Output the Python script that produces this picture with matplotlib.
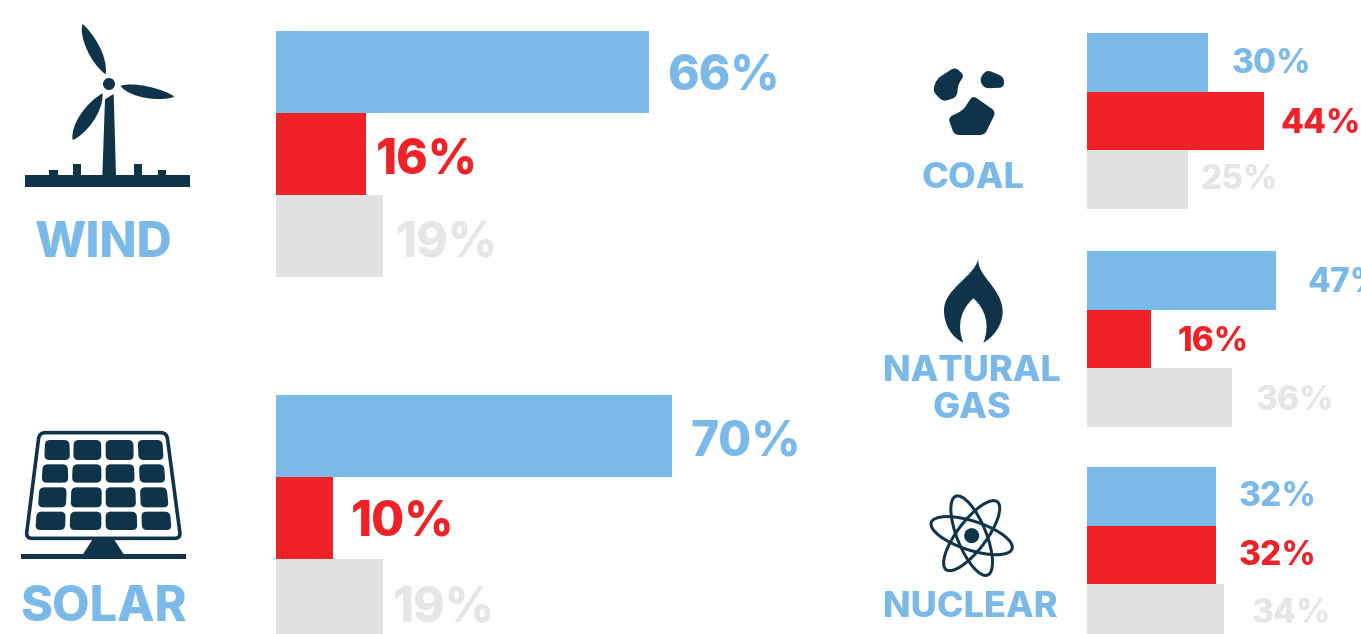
import matplotlib
matplotlib.use("Agg")
import matplotlib.pyplot as plt
from matplotlib.patches import PathPatch, Polygon, Circle, Ellipse
from matplotlib.path import Path
import numpy as np

W, H = 1361, 634
BLUE, RED, GRAY, GRAYTXT, DARK = "#7BB9E8", "#EE2227", "#E0E1E3", "#E5E6E7", "#0F3349"
FONT = "Inter"
WEIGHT = 800

wind = [66, 16, 19]
solar = [70, 10, 19]
coal = [30, 44, 25]
natural_gas = [47, 16, 36]
nuclear = [32, 32, 34]

bar_colors = [BLUE, RED, GRAY]
text_colors = [BLUE, RED, GRAYTXT]

fig = plt.figure(figsize=(W / 100, H / 100), dpi=100, facecolor="white")
px = 72 / 100


def group(values, x0, top, bar_h, scale, gaps, shifts, size, digit_h):
    width = W - x0
    ax = fig.add_axes([x0 / W, 1 - (top + 3 * bar_h) / H, width / W, 3 * bar_h / H])
    ax.set_xlim(0, width / scale)
    ax.set_ylim(2.5, -0.5)
    ax.axis("off")
    ax.barh(range(3), values, height=1.0, color=bar_colors, linewidth=0)
    for i, v in enumerate(values):
        ax.annotate(f"{v}%", xy=(v, i), xytext=(gaps[i] * px, -(digit_h / 2 + shifts[i]) * px),
                    textcoords="offset points", ha="left", va="baseline",
                    fontsize=size, fontweight=WEIGHT, family=FONT,
                    color=text_colors[i], annotation_clip=False)


group(wind, 276, 31, 82, 5.655, [18, 9, 12], [0, 2, 3], 34.5, 36)
group(solar, 276, 395, 82, 5.655, [19, 18, 9], [1, 0, 4], 34.5, 36)
group(coal, 1087, 33, 58.7, 4.03, [24, 16, 13], [-1, 0, -3], 24, 24)
group(natural_gas, 1087, 251, 58.7, 4.03, [31, 26, 23], [0, 0, 0], 24, 24)
group(nuclear, 1087, 467, 58.7, 4.03, [23, 23, 27], [-2, -2, -3], 24, 24)

ov = fig.add_axes([0, 0, 1, 1], facecolor="none")
ov.set_xlim(0, W)
ov.set_ylim(H, 0)
ov.axis("off")


def Z(x0, y0, pts):
    return [(x0 + x / 3, y0 + y / 3) for x, y in pts]


def curve(start, *segs, fc=DARK):
    verts, codes = [start], [Path.MOVETO]
    for s in segs:
        verts += list(s)
        codes += [Path.CURVE4] * 3
    verts.append(start)
    codes.append(Path.CLOSEPOLY)
    return PathPatch(Path(verts, codes), fc=fc, ec="none", lw=0)


def rounded(pts, r, **kw):
    pts = np.array(pts, float)
    n = len(pts)
    verts, codes = [], []
    for i in range(n):
        p, a, b = pts[i], pts[i - 1], pts[(i + 1) % n]
        rr = min(r, np.linalg.norm(a - p) / 2, np.linalg.norm(b - p) / 2)
        s = p + (a - p) / np.linalg.norm(a - p) * rr
        e = p + (b - p) / np.linalg.norm(b - p) * rr
        verts += [s, p, e]
        codes += [Path.MOVETO if i == 0 else Path.LINETO, Path.CURVE3, Path.CURVE3]
    verts.append(verts[0])
    codes.append(Path.CLOSEPOLY)
    return PathPatch(Path(np.array(verts), codes), **kw)


# wind turbine
zw = lambda *p: Z(10, 10, p)
blades = [
    [(287, 193), (240, 160), (205, 75), (218, 42), (245, 65), (295, 135)],
    [(331, 228), (365, 268), (460, 275), (493, 260), (470, 240), (370, 212)],
    [(278, 250), (230, 275), (180, 345), (188, 390), (225, 375), (280, 310)],
]
for b in blades:
    s, c1, c2, tip, c3, c4 = zw(*b)
    ov.add_patch(curve(s, (c1, c2, tip), (c3, c4, s)))
ov.add_patch(Circle(zw((297, 222))[0], 6, fc=DARK, ec="none"))
ov.add_patch(Polygon(zw((285, 268), (311, 252), (318, 497), (277, 497)), fc=DARK, ec="none"))
ov.add_patch(Polygon(zw((46, 496), (540, 496), (540, 530), (46, 530)), fc=DARK, ec="none"))
for x1, y1, x2 in [(117, 480, 143), (189, 462, 214), (371, 462, 397), (443, 480, 469)]:
    ov.add_patch(Polygon(zw((x1, y1), (x2, y1), (x2, 497), (x1, 497)), fc=DARK, ec="none"))

# solar panel
zs = lambda *p: Z(10, 420, p)
ov.add_patch(rounded(zs((88, 38), (470, 38), (512, 355), (48, 355)), 6, fc="none", ec=DARK, lw=3.6 * px))
rows = [(60, 120, [(105, 178), (191, 273), (287, 370), (383, 457)],
         [(103, 180), (190, 274), (287, 371), (386, 461)]),
        (133, 188, [(98, 173), (188, 274), (287, 372), (387, 462)],
         [(95, 175), (186, 274), (287, 374), (389, 466)]),
        (202, 262, [(88, 170), (184, 275), (287, 376), (390, 470)],
         [(84, 168), (182, 275), (287, 378), (392, 476)]),
        (275, 330, [(80, 167), (181, 274), (287, 380), (394, 480)],
         [(76, 165), (179, 274), (287, 382), (396, 485)])]
for y1, y2, tops, bots in rows:
    for (a, b), (c, d) in zip(tops, bots):
        ov.add_patch(rounded(zs((a, y1), (b, y1), (d, y2), (c, y2)), 5, fc=DARK, ec="none"))
ov.add_patch(Polygon(zs((248, 358), (312, 358), (342, 404), (218, 404)), fc=DARK, ec="none"))
ov.add_patch(Polygon(zs((33, 403), (527, 403), (527, 416), (33, 416)), fc=DARK, ec="none"))

# coal
zc = lambda *p: Z(920, 55, p)
for blob in [
    [(50, 72), (105, 36), (134, 62), (115, 85), (110, 127), (68, 140), (38, 108)],
    [(178, 72), (200, 44), (252, 66), (252, 98), (192, 100)],
    [(158, 121), (228, 170), (194, 240), (103, 240), (84, 188), (130, 165)],
]:
    ov.add_patch(rounded(zc(*blob), 5, fc=DARK, ec="none"))

# flame
zf = lambda *p: Z(930, 250, p)
ov.add_patch(curve(
    zf((145, 25))[0],
    zf((140, 80), (215, 110), (218, 185)),
    zf((218, 225), (190, 262), (160, 278)),
    zf((182, 225), (165, 175), (130, 145)),
    zf((95, 175), (78, 225), (100, 278)),
    zf((65, 262), (42, 225), (42, 180)),
    zf((42, 115), (135, 80), (145, 25)),
))

# atom
zn = lambda *p: Z(920, 485, p)
c = zn((155, 152))[0]
for ang in (18, 68, -53):
    ov.add_patch(Ellipse(c, 85, 29, angle=ang, fc="none", ec=DARK, lw=3.0 * px))
ov.add_patch(Circle(c, 7.5, fc=DARK, ec="none"))

# category titles
for s, x, y, size in [("WIND", 104, 257, 35), ("SOLAR", 104, 621, 35), ("COAL", 973, 188, 26),
                      ("NATURAL", 972, 381, 26), ("GAS", 972, 418, 26), ("NUCLEAR", 970, 617, 26)]:
    ov.text(x, y, s, ha="center", va="baseline", color=BLUE, fontsize=size,
            fontweight=WEIGHT, family=FONT)

fig.savefig("out.png", dpi=100, facecolor="white")
